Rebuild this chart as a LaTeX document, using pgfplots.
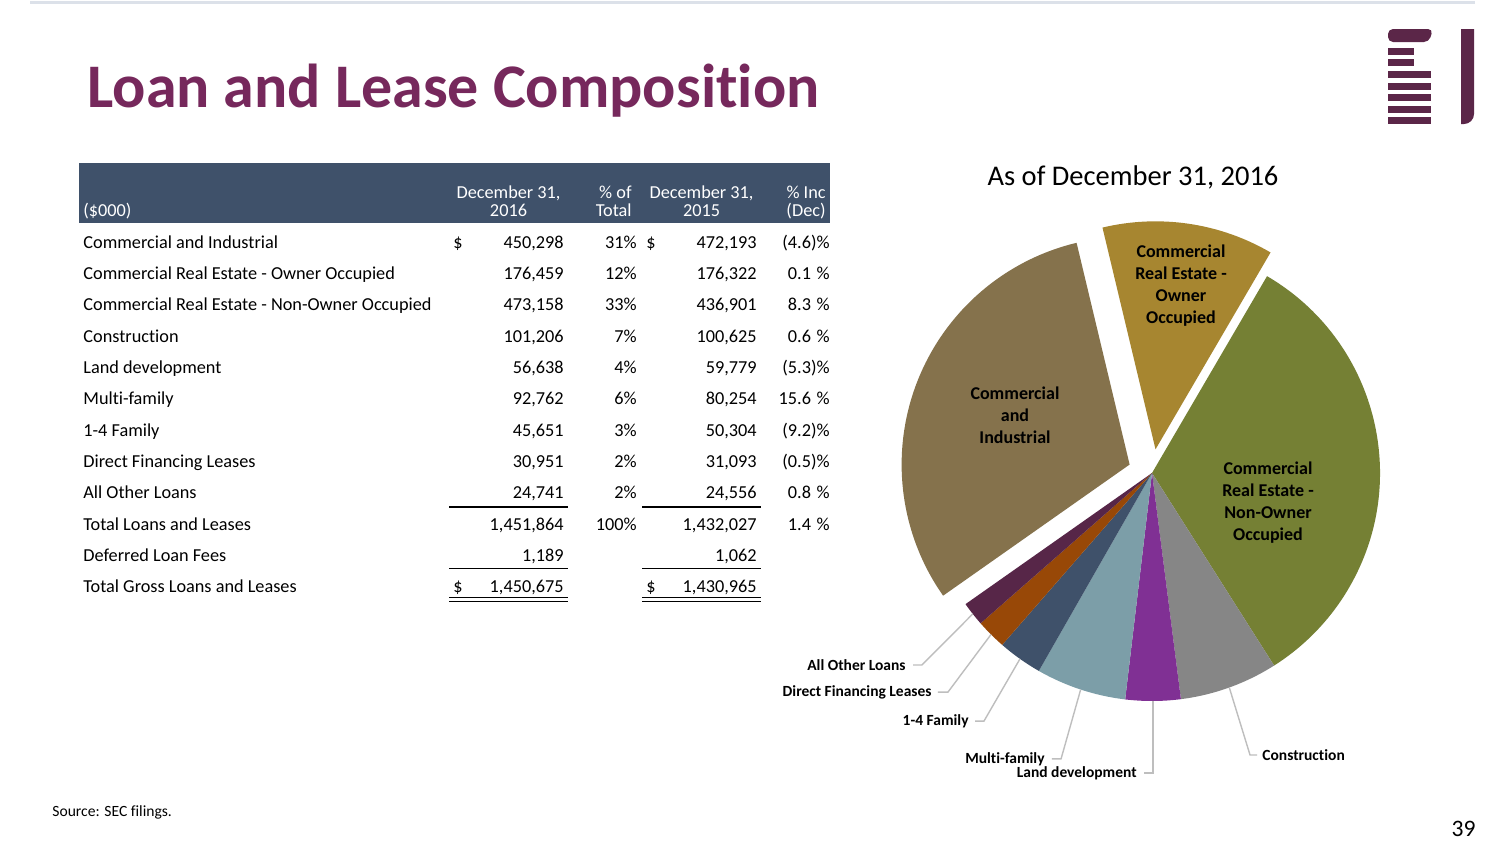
\documentclass[border=0pt]{standalone}
\usepackage{fontspec}
\setmainfont{Carlito}[Ligatures={TeX,NoCommon}]
\usepackage{pgfplots}
\pgfplotsset{compat=1.18}
\usepackage{xfp}

\definecolor{titlec}{RGB}{118,40,92}
\definecolor{logoc}{RGB}{91,38,72}
\definecolor{hdr}{RGB}{63,81,106}
\definecolor{topline}{RGB}{220,225,233}
\definecolor{cCI}{RGB}{133,114,76}
\definecolor{cOO}{RGB}{167,134,48}
\definecolor{cNOO}{RGB}{117,128,52}
\definecolor{cCon}{RGB}{134,134,134}
\definecolor{cLand}{RGB}{128,48,148}
\definecolor{cMulti}{RGB}{124,158,168}
\definecolor{cFam}{RGB}{63,81,106}
\definecolor{cDFL}{RGB}{152,72,7}
\definecolor{cOther}{RGB}{87,38,72}
\definecolor{leadc}{RGB}{190,190,190}

% pie data (December 31, 2016, $000)
\def\vCI{450298}    % Commercial and Industrial
\def\vOO{176459}    % CRE - Owner Occupied
\def\vNOO{473158}   % CRE - Non-Owner Occupied
\def\vCon{101206}   % Construction
\def\vLand{56638}   % Land development
\def\vMulti{92762}  % Multi-family
\def\vFam{45651}    % 1-4 Family
\def\vDFL{30951}    % Direct Financing Leases
\def\vOther{24741}  % All Other Loans
\edef\T{\fpeval{\vCI+\vOO+\vNOO+\vCon+\vLand+\vMulti+\vFam+\vDFL+\vOther}}

\edef\cur{\fpeval{round(59.7+360*(\vOO+\vCI)/\T,4)}}
\newcommand\mk[3]{%
  \expandafter\edef\csname slS#1\endcsname{\cur}%
  \edef\cur{\fpeval{round(\cur-360*#2/\T,4)}}%
  \expandafter\edef\csname slE#1\endcsname{\cur}%
  \expandafter\edef\csname slX#1\endcsname{\fpeval{round(#3*cosd((\csname slS#1\endcsname+\cur)/2),4)}}%
  \expandafter\edef\csname slY#1\endcsname{\fpeval{round(#3*sind((\csname slS#1\endcsname+\cur)/2),4)}}}
\mk{CI}{\vCI}{0.105}
\mk{OO}{\vOO}{0.105}
\mk{NOO}{\vNOO}{0}
\mk{Con}{\vCon}{0}
\mk{Land}{\vLand}{0}
\mk{Multi}{\vMulti}{0}
\mk{Fam}{\vFam}{0}
\mk{DFL}{\vDFL}{0}
\mk{Other}{\vOther}{0}

\newcommand\drawslice[2]{\fill[#2] (axis cs:\csname slX#1\endcsname,\csname slY#1\endcsname) -- ++(\csname slS#1\endcsname:114pt) arc[start angle=\csname slS#1\endcsname, end angle=\csname slE#1\endcsname, radius=114pt] -- cycle;}

\newcommand\trow[8]{%
  \node[anchor=base west] at (83,#1) {#2};
  \node[anchor=base west] at (453,#1) {#3};
  \node[anchor=base east] at (564,#1) {#4};
  \node[anchor=base east] at (637,#1) {#5};
  \node[anchor=base west] at (646,#1) {#6};
  \node[anchor=base east] at (757,#1) {#7};
  \node[anchor=base east] at (830,#1) {#8};}

\begin{document}
\begin{tikzpicture}[x=0.5pt,y=-0.5pt,every node/.style={inner sep=0pt,font=\fontsize{9.13}{11}\selectfont}]
\fill[white] (0,0) rectangle (1504,846);
% top line
\draw[topline,line width=1.5pt] (30,2) -- (1475,2);
% logo
\fill[logoc,rounded corners=2.5pt] (1388,42) -- (1388,29) -- (1433,29) -- (1429,42) -- cycle;
\fill[logoc] (1388,48) rectangle (1414,55);
\fill[logoc] (1388,59) rectangle (1414,66);
\foreach \yy in {71,83,94,106,117} {\fill[logoc] (1388,\yy) rectangle (1431,\yy+7);}
\fill[logoc] (1461,29) -- (1474,29) -- (1474,114) arc[start angle=0,end angle=-90,radius=5pt] -- (1461,124) -- cycle;
% title
\node[anchor=base west,font=\bfseries\fontsize{31}{36}\selectfont,text=titlec] at (87,107) {Loan and Lease Composition};

% table header
\fill[hdr] (79,163) rectangle (830,223);
\begin{scope}[every node/.append style={text=white}]
\node[anchor=base west] at (83,216) {(\$000)};
\node[anchor=base] at (508.5,198) {December 31,};
\node[anchor=base] at (508.5,216) {2016};
\node[anchor=base east] at (632,198) {\% of};
\node[anchor=base east] at (632,216) {Total};
\node[anchor=base] at (701.5,198) {December 31,};
\node[anchor=base] at (701.5,216) {2015};
\node[anchor=base east] at (826,198) {\% Inc};
\node[anchor=base east] at (826,216) {(Dec)};
\end{scope}
% table rows
\trow{248}{Commercial and Industrial}{\$}{450,298}{31\%}{\$}{472,193}{(4.6)\%}
\trow{279.4}{Commercial Real Estate - Owner Occupied}{}{176,459}{12\%}{}{176,322}{0.1\phantom{)}\%}
\trow{310.7}{Commercial Real Estate - Non-Owner Occupied}{}{473,158}{33\%}{}{436,901}{8.3\phantom{)}\%}
\trow{342.1}{Construction}{}{101,206}{7\%}{}{100,625}{0.6\phantom{)}\%}
\trow{373.4}{Land development}{}{56,638}{4\%}{}{59,779}{(5.3)\%}
\trow{404.8}{Multi-family}{}{92,762}{6\%}{}{80,254}{15.6\phantom{)}\%}
\trow{436.2}{1-4 Family}{}{45,651}{3\%}{}{50,304}{(9.2)\%}
\trow{467.5}{Direct Financing Leases}{}{30,951}{2\%}{}{31,093}{(0.5)\%}
\trow{498.9}{All Other Loans}{}{24,741}{2\%}{}{24,556}{0.8\phantom{)}\%}
\trow{530.2}{Total Loans and Leases}{}{1,451,864}{100\%}{}{1,432,027}{1.4\phantom{)}\%}
\trow{561.6}{Deferred Loan Fees}{}{1,189}{}{}{1,062}{}
\trow{592.9}{Total Gross Loans and Leases}{\$}{1,450,675}{}{\$}{1,430,965}{}
\begin{scope}[line width=0.75pt]
\draw (449,507) -- (568,507); \draw (642,507) -- (761,507);
\draw (449,568.5) -- (568,568.5); \draw (642,568.5) -- (761,568.5);
\draw (449,597.5) -- (568,597.5); \draw (642,597.5) -- (761,597.5);
\draw (449,601.5) -- (568,601.5); \draw (642,601.5) -- (761,601.5);
\end{scope}

% pie title
\node[anchor=base,font=\fontsize{14.25}{17}\selectfont] at (1133,185) {As of December 31, 2016};

% pie
\begin{axis}[at={(576pt,-236.5pt)},anchor=center,x=114pt,y=114pt,
  xmin=-1.3,xmax=1.3,ymin=-1.3,ymax=1.3,hide axis,clip=false]
\pgfplotsextra{%
  \drawslice{CI}{cCI}
  \drawslice{OO}{cOO}
  \drawslice{NOO}{cNOO}
  \drawslice{Con}{cCon}
  \drawslice{Land}{cLand}
  \drawslice{Multi}{cMulti}
  \drawslice{Fam}{cFam}
  \drawslice{DFL}{cDFL}
  \drawslice{Other}{cOther}
}
\addplot[leadc,line width=0.7pt] coordinates {(-1.048,-0.842) (-1.009,-0.842) (-0.786,-0.618)};
\addplot[leadc,line width=0.7pt] coordinates {(-0.939,-0.961) (-0.895,-0.961) (-0.706,-0.708)};
\addplot[leadc,line width=0.7pt] coordinates {(-0.776,-1.088) (-0.737,-1.088) (-0.579,-0.815)};
\addplot[leadc,line width=0.7pt] coordinates {(-0.439,-1.254) (-0.399,-1.254) (-0.313,-0.950)};
\addplot[leadc,line width=0.7pt] coordinates {(-0.035,-1.316) (0.005,-1.316) (0.005,-1.0)};
\addplot[leadc,line width=0.7pt] coordinates {(0.461,-1.237) (0.430,-1.237) (0.339,-0.941)};
\end{axis}

% inner pie labels
\begin{scope}[every node/.style={inner sep=0pt,align=center,font=\bfseries\fontsize{9}{11}\selectfont}]
\node at (1015,415) {Commercial\\and\\Industrial};
\node at (1181,286) {Commercial\\Real Estate -\\Owner\\Occupied};
\node at (1268,503) {Commercial\\Real Estate -\\Non-Owner\\Occupied};
\end{scope}
% outer pie labels
\begin{scope}[every node/.style={inner sep=0pt,font=\bfseries\fontsize{7.75}{9}\selectfont}]
\node[anchor=east] at (906,665) {All Other Loans};
\node[anchor=east] at (932,692) {Direct Financing Leases};
\node[anchor=east] at (969,721) {1-4 Family};
\node[anchor=east] at (1045,759) {Multi-family};
\node[anchor=east] at (1137,773) {Land development};
\node[anchor=west] at (1262,755) {Construction};
\end{scope}

% footer
\node[anchor=base west,font=\fontsize{7.8}{9}\selectfont] at (52,816) {Source: SEC filings.};
\node[anchor=base east,font=\fontsize{11.8}{14}\selectfont] at (1476,836) {39};

\pgfresetboundingbox
\useasboundingbox (0,0) rectangle (1504,846);
\end{tikzpicture}
\end{document}
